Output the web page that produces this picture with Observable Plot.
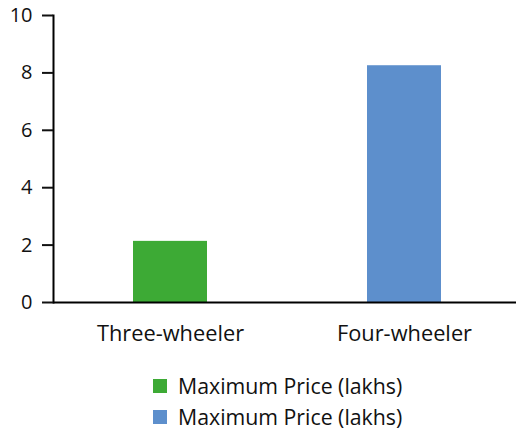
<!DOCTYPE html>
<html><head><meta charset="utf-8">
<script src="https://cdn.jsdelivr.net/npm/d3@7"></script>
<script src="https://cdn.jsdelivr.net/npm/@observablehq/plot@0.6"></script>
<style>
body{margin:0;background:#fff;font-family:"Open Sans",sans-serif;color:#111;}
#legend{margin-top:18px;padding-left:153px;}
.row{height:31px;display:flex;align-items:center;font-size:21.3px;line-height:1;}
.sw{width:14px;height:14px;margin-right:11px;flex:none;}
</style></head><body><div id="chart"></div><div id="legend"></div>
<script>
const categories = ["Three-wheeler", "Four-wheeler"];
const values = [2.13, 8.25];
const colors = ["#3daa35", "#5d8fcc"];
const seriesLabels = ["Maximum Price (lakhs)", "Maximum Price (lakhs)"];
const yTicks = [0, 2, 4, 6, 8, 10];

const data = categories.map((c, i) => ({category: c, value: values[i]}));

const plot = Plot.plot({
  width: 516, height: 352,
  marginLeft: 53, marginRight: 0, marginTop: 15, marginBottom: 50,
  style: {fontFamily: "Open Sans", fontSize: "20px", color: "#111", background: "#fff"},
  x: {domain: categories, range: [53, 521], paddingInner: 0.684, paddingOuter: 0.342},
  y: {domain: [0, 10], ticks: yTicks},
  color: {domain: categories, range: colors},
  marks: [
    Plot.barY(data, {x: "category", y: "value", fill: "category"}),
    Plot.ruleY([0], {stroke: "#000", strokeWidth: 2}),
    Plot.frame({anchor: "left", stroke: "#000", strokeWidth: 2}),
    Plot.axisY({ticks: yTicks, tickSize: 11, tickPadding: 10, label: null, strokeWidth: 2, fontSize: 20}),
    Plot.axisX({tickSize: 0, tickPadding: 23, label: null, fontSize: 21.8})
  ]
});
document.getElementById("chart").appendChild(plot);

const legend = document.getElementById("legend");
seriesLabels.forEach((lab, i) => {
  const row = document.createElement("div");
  row.className = "row";
  const sw = document.createElement("span");
  sw.className = "sw";
  sw.style.background = colors[i];
  const t = document.createElement("span");
  t.textContent = lab;
  row.appendChild(sw); row.appendChild(t);
  legend.appendChild(row);
});
</script></body></html>
